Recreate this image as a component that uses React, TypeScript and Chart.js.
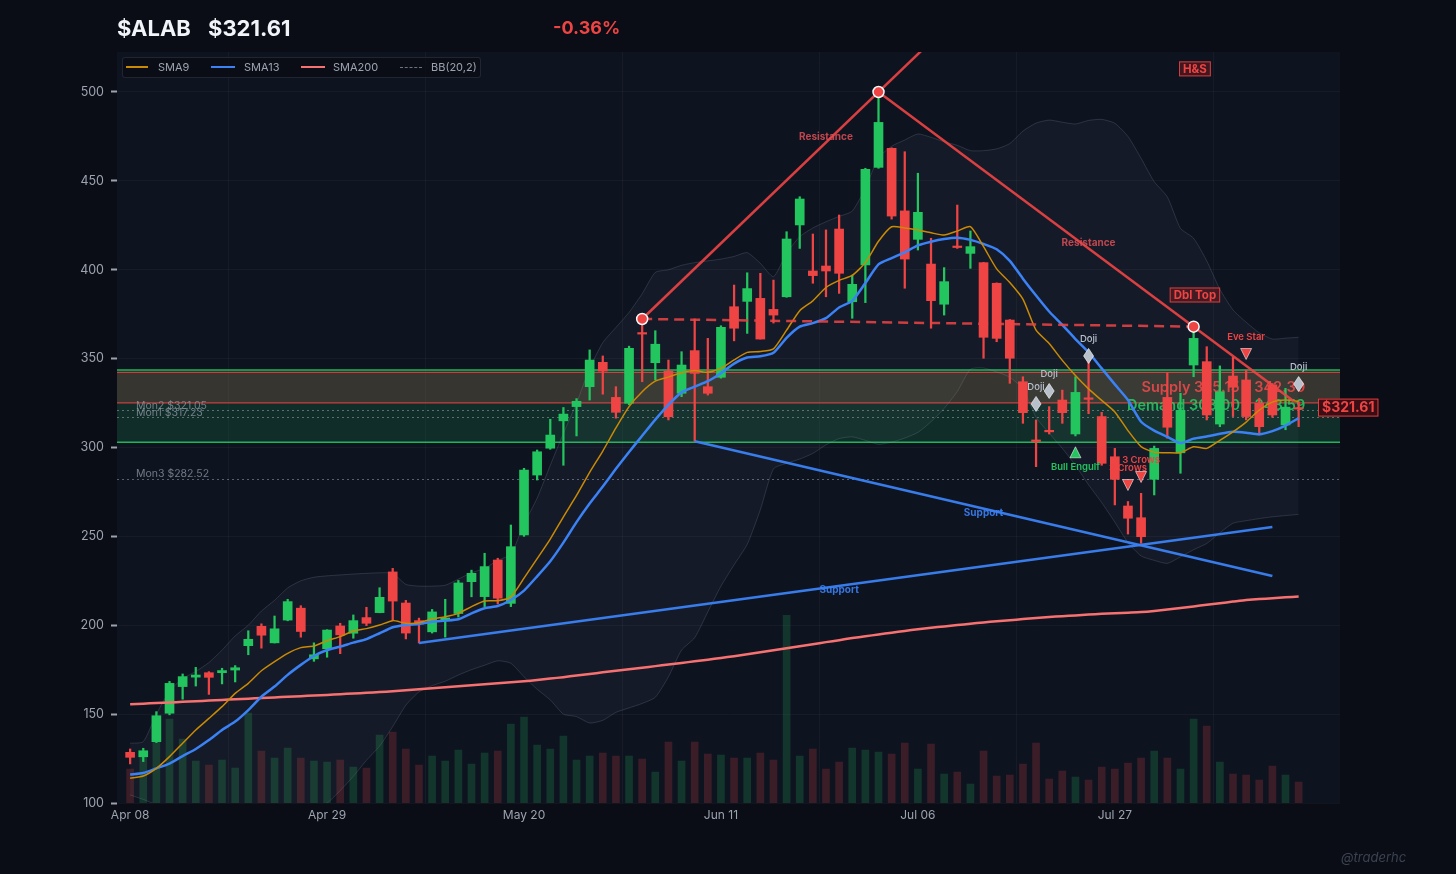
import React, { useEffect, useRef } from "react";
import { Chart, registerables } from "chart.js";

Chart.register(...registerables);

const FONT = "Inter, 'Noto Sans', 'DejaVu Sans', sans-serif";
const PAGE_BG = "#0a0d15";
const PLOT_BG = "#0e1320";
const GREEN = "#22c55e";
const RED = "#ef4444";
const BLUE = "#3b82f6";
const ORANGE = "#ca8a04";
const AXIS_TEXT = "#9ca3af";

// ---------- data ----------
const opens = [128.5,126.0,134.5,150.5,165.5,170.8,173.3,173.3,174.8,188.5, 199.4,190.1,202.9,209.6,181.1,186.8,199.6,195.5,204.3,207.1, 230.0,212.5,202.6,196.3,202.6,206.6,224.5,216.1,236.7,212.3, 250.8,284.5,299.6,315.0,323.0,334.2,347.9,328.2,324.9,364.2, 347.7,343.0,330.5,354.5,334.2,339.5,379.2,382.2,383.9,377.7, 384.8,425.2,399.3,402.1,422.9,382.0,402.7,457.6,468.3,433.1, 417.1,403.2,380.6,413.0,409.2,404.0,392.4,371.7,337.0,303.8, 309.2,326.7,307.6,327.5,317.4,294.8,267.1,260.5,282.1,328.2, 297.0,346.4,348.3,313.2,340.2,338.0,324.9,335.2,312.7,322.3];
const highs = [130.4,130.8,151.4,168.4,172.6,176.3,173.9,175.8,177.3,196.9, 200.8,205.2,214.6,211.0,190.1,197.5,201.1,205.8,210.1,221.1, 232.0,214.0,204.0,208.9,214.6,225.2,231.0,240.5,237.7,256.4, 288.3,298.6,315.9,322.5,327.5,354.9,351.5,334.2,357.0,372.3, 365.7,349.2,353.9,372.3,361.4,368.5,391.4,398.3,398.0,394.2, 421.4,441.1,420.1,422.4,430.8,397.0,457.1,500.0,468.6,466.4, 454.3,417.7,401.2,436.4,421.8,404.2,392.6,372.0,339.8,315.5, 323.0,332.3,339.8,348.3,319.8,299.5,269.6,274.2,300.8,342.1, 330.5,368.0,356.7,345.9,350.7,343.6,327.7,336.0,333.3,325.8];
const lows = [122.0,123.3,134.0,149.6,158.4,165.8,161.1,167.0,168.1,183.4, 187.1,190.0,202.5,193.3,179.7,182.0,184.0,192.7,199.8,207.0, 202.6,192.3,190.0,195.6,193.3,204.6,216.0,210.5,212.0,210.5, 250.0,281.7,299.0,290.0,306.5,326.7,330.0,316.5,324.0,337.0, 338.0,315.5,328.6,303.5,329.5,339.0,360.0,364.2,361.0,370.0, 384.5,412.0,392.4,384.8,386.7,372.7,381.5,457.1,428.5,389.6, 411.1,367.1,374.5,412.0,400.8,350.2,359.5,336.1,313.6,289.2, 307.6,313.6,306.5,319.0,290.0,267.7,251.3,246.1,273.3,305.2, 285.5,339.8,315.5,311.7,317.4,315.5,307.0,317.0,310.0,311.7];
const closes = [125.7,129.4,149.1,167.3,171.1,172.0,170.7,174.5,176.1,192.1, 194.4,198.0,213.3,196.5,183.4,197.3,194.6,202.6,201.1,215.7, 213.6,195.6,200.7,207.5,204.1,223.8,229.2,233.0,215.2,244.2, 287.3,297.6,307.0,318.8,326.0,349.2,343.0,319.8,355.8,363.8, 358.1,317.3,346.4,341.7,330.5,367.6,367.1,389.4,361.0,374.5, 417.3,439.8,396.7,399.3,398.0,391.8,456.5,482.9,430.2,406.0, 432.3,382.6,393.3,412.5,413.0,362.0,361.4,350.2,319.6,303.4, 308.8,319.6,331.0,327.1,291.1,282.1,260.2,249.8,299.5,311.4, 320.9,361.4,318.3,331.4,333.9,317.4,311.7,318.3,322.7,321.61];
// volume, millions
const volumes = [3.4,4.7,6.1,8.4,6.4,4.2,3.8,4.3,3.5,9.0, 5.2,4.5,5.5,4.5,4.2,4.1,4.3,3.6,3.5,6.8, 7.1,5.4,3.8,4.7,4.2,5.3,3.9,5.0,5.2,7.9, 8.6,5.8,5.4,6.7,4.3,4.7,5.0,4.7,4.7,4.4, 3.1,6.1,4.2,6.1,4.9,4.8,4.5,4.5,5.0,4.3, 18.8,4.7,5.4,3.4,4.1,5.5,5.3,5.1,4.9,6.0, 3.4,5.9,2.9,3.1,1.9,5.2,2.7,2.8,3.9,6.0, 2.4,3.2,2.6,2.3,3.6,3.4,4.0,4.5,5.2,4.5, 3.4,8.4,7.7,4.1,2.9,2.8,2.3,3.7,2.8,2.1];
const sma9 = [113.9,115.2,119.5,126.1,133.6,141.1,147.6,154.2,161.7,167.3, 174.4,179.5,184.2,187.4,188.3,191.3,193.6,196.8,198.1,200.1, 202.6,201.1,201.4,203.5,204.8,206.7,210.5,213.6,213.8,216.0, 226.5,237.5,248.5,261.0,273.0,286.0,298.0,311.0,323.0,331.4, 337.3,339.6,342.0,343.3,342.3,344.5,349.3,353.5,354.0,355.5, 366.0,377.0,382.5,390.0,394.0,396.8,404.0,416.0,424.2,423.5, 422.3,420.8,419.5,421.8,424.2,413.0,400.5,392.8,383.5,366.0, 358.5,349.0,340.5,333.0,326.5,320.0,309.5,300.5,297.3,297.1, 297.1,300.4,299.5,304.0,308.8,314.3,321.0,325.5,326.7,326.0];
const sma13 = [116.0,116.9,119.5,122.2,126.4,130.4,135.4,141.1,145.8,152.3, 159.8,165.5,172.1,177.7,182.7,186.1,188.0,190.2,192.2,195.5, 198.9,200.2,200.7,202.0,202.6,203.4,206.7,209.6,210.8,214.2, 219.5,227.5,236.0,246.5,258.0,268.5,278.0,288.0,297.5,306.6, 315.7,324.0,331.0,334.2,337.3,341.8,347.2,350.6,351.3,353.3, 361.7,368.0,370.0,372.8,378.8,382.5,392.5,403.0,406.5,409.8, 413.7,415.8,417.3,418.0,416.8,414.5,411.5,405.0,395.0,385.5, 376.5,369.0,361.0,353.5,344.5,335.5,326.7,314.5,309.5,306.0, 302.5,305.0,306.2,307.7,308.8,308.3,307.4,309.2,312.3,316.5];
const sma200 = [155.5,155.9,156.2,156.6,156.9,157.3,157.6,158.0,158.4,158.7, 159.1,159.4,159.8,160.1,160.5,160.8,161.2,161.6,162.0,162.4, 162.9,163.4,164.0,164.5,165.1,165.7,166.2,166.8,167.4,167.9, 168.5,169.2,170.0,170.8,171.7,172.6,173.5,174.4,175.3,176.1, 177.0,177.9,178.8,179.7,180.6,181.6,182.6,183.7,184.8,185.9, 187.0,188.2,189.3,190.5,191.6,192.8,193.8,194.8,195.8,196.8, 197.8,198.6,199.3,200.1,200.8,201.6,202.2,202.8,203.5,204.1, 204.7,205.1,205.5,206.0,206.4,206.8,207.1,207.4,208.0,208.8, 209.7,210.6,211.5,212.4,213.3,214.2,214.7,215.2,215.7,216.2];
const bbUpper = [133.6,134.5,150,163,170,174,179,186,194,200, 208,214,221,225,227,227.8,228.3,228.8,229.2,229.5, 229.2,223,222,222,222.5,226,229.5,232,236.5,240, 257,271.5,290,308,325,344.5,359,367.5,376,386.5, 398.5,400,402.5,404,405,406,407.5,409.6,403.6,396.1, 409.3,418.6,423.5,427,430,433,446,463,469.5,473, 476.4,474.5,472,470,467,467,468,471,478,482.5, 484.2,483,482,484,484.6,482.4,475,462.7,449.5,441, 423.3,417.7,405,389,377.4,370.5,364.5,361,361.5,362];
const bbLower = [104.5,102,99,96,94,92,90,89,88,88, 89,91,94,95,97.5,100,107,115,124,132, 143,155,162.5,166,168.5,172,175,177.5,180,178.6, 171,164,158,150,148.6,145,146.5,151,153.5,156, 159.5,171,186,193,207.5,222,234,245.5,265,288, 291.1,293.5,296.7,301.5,305,306,304,301.8,303,305.3, 308.5,314.5,322,331.5,344,344.7,342.5,339.5,333,317, 308,299.5,290,279,269,258,246.5,239,236.5,234.8, 238.5,242.5,246,252,257.4,258.8,260,261,261.7,262.4];

const xTickIndex = [0, 15, 30, 45, 60, 75];
const xTickLabels = ["Apr 08", "Apr 29", "May 20", "Jun 11", "Jul 06", "Jul 27"];
const yTicks = [100, 150, 200, 250, 300, 350, 400, 450, 500];

const demandZone = [303.0, 343.59];
const supplyZone = [325.15, 342.3];
const supplyText = "Supply 325.15 – 342.30";
const demandText = "Demand 303.00 – 343.59";
const monLevels = [
  { label: "Mon2 $321.05", value: 321.05 },
  { label: "Mon1 $317.23", value: 317.23 },
  { label: "Mon3 $282.52", value: 282.52 },
];
const resistanceLines = [
  { x1: 39, y1: 372.3, x2: 61, y2: 528.4 },
  { x1: 57, y1: 500.0, x2: 88.6, y2: 326.2 },
];
const necklines = [{ x1: 39, y1: 372.3, x2: 81, y2: 368.0 }];
const supportLines = [
  { x1: 43, y1: 303.5, x2: 87, y2: 227.7 },
  { x1: 22, y1: 190.0, x2: 87, y2: 255.3 },
];
const pivots = [
  { x: 39, y: 372.3 },
  { x: 57, y: 500.0 },
  { x: 81, y: 368.0 },
];
const lineLabels = [
  { text: "Resistance", x: 53, y: 474.7, kind: "res" },
  { text: "Resistance", x: 73, y: 415.0, kind: "res" },
  { text: "Support", x: 65, y: 263.1, kind: "sup" },
  { text: "Support", x: 54, y: 219.8, kind: "sup" },
];
const dojiMarks = [
  { x: 69, y: 324.5 },
  { x: 70, y: 331.8 },
  { x: 73, y: 351.5 },
  { x: 89, y: 335.7 },
];
const bullMarks = [{ x: 72, y: 297.3, label: "Bull Engulf" }];
const bearMarks = [
  { x: 76, y: 278.9, label: "3 Crows" },
  { x: 77, y: 283.4, label: "3 Crows" },
  { x: 85, y: 352.6, label: "Eve Star" },
];
const patternTags = [
  { text: "H&S", x: 81.1, y: 513.0 },
  { text: "Dbl Top", x: 81.1, y: 385.8 },
];
const lastPrice = 321.61;

// ---------- helpers ----------
const idx = closes.map((_, i) => i);
const isUp = (i: number) => closes[i] >= opens[i];

function drawTri(ctx: CanvasRenderingContext2D, cx: number, cy: number, up: boolean, fill: string) {
  const w = 11, h = 11;
  ctx.beginPath();
  if (up) {
    ctx.moveTo(cx, cy - h / 2);
    ctx.lineTo(cx + w / 2, cy + h / 2);
    ctx.lineTo(cx - w / 2, cy + h / 2);
  } else {
    ctx.moveTo(cx - w / 2, cy - h / 2);
    ctx.lineTo(cx + w / 2, cy - h / 2);
    ctx.lineTo(cx, cy + h / 2);
  }
  ctx.closePath();
  ctx.fillStyle = fill;
  ctx.fill();
  ctx.strokeStyle = "rgba(255,255,255,0.55)";
  ctx.lineWidth = 1;
  ctx.stroke();
}

const backgroundPlugin = {
  id: "plotBg",
  beforeDraw(chart: any) {
    const { ctx, chartArea: a } = chart;
    ctx.save();
    ctx.fillStyle = PLOT_BG;
    ctx.fillRect(a.left, a.top, a.right - a.left, a.bottom - a.top);
    ctx.restore();
  },
};

const annotationPlugin = {
  id: "annotations",
  beforeDatasetsDraw(chart: any) {
    const { ctx, chartArea: a, scales } = chart;
    const x = scales.x, y = scales.y;
    ctx.save();
    ctx.beginPath();
    ctx.rect(a.left, a.top, a.right - a.left, a.bottom - a.top);
    ctx.clip();
    const W = a.right - a.left;
    const dT = y.getPixelForValue(demandZone[1]);
    const dB = y.getPixelForValue(demandZone[0]);
    const sT = y.getPixelForValue(supplyZone[1]);
    const sB = y.getPixelForValue(supplyZone[0]);
    // supply first, demand laid over it
    ctx.fillStyle = "rgba(239,68,68,0.2)";
    ctx.fillRect(a.left, sT, W, sB - sT);
    ctx.fillStyle = "rgba(34,197,94,0.15)";
    ctx.fillRect(a.left, dT, W, dB - dT);
    const hline = (py: number, color: string, lw: number) => {
      ctx.beginPath();
      ctx.moveTo(a.left, py);
      ctx.lineTo(a.right, py);
      ctx.strokeStyle = color;
      ctx.lineWidth = lw;
      ctx.stroke();
    };
    hline(sT, "rgba(239,68,68,0.8)", 1.2);
    hline(sB, "rgba(239,68,68,0.8)", 1.2);
    hline(dT, "rgba(34,197,94,0.9)", 1.5);
    hline(dB, "rgba(34,197,94,0.9)", 1.5);

    // monthly levels
    ctx.setLineDash([2, 3]);
    monLevels.forEach((m) => {
      const py = Math.round(y.getPixelForValue(m.value)) + 0.5;
      hline(py, "rgba(203,213,225,0.4)", 1);
    });
    ctx.setLineDash([]);
    ctx.font = `400 10.5px ${FONT}`;
    ctx.fillStyle = "rgba(148,156,170,0.75)";
    ctx.textAlign = "left";
    ctx.textBaseline = "bottom";
    monLevels.forEach((m) => {
      const py = y.getPixelForValue(m.value);
      ctx.fillText(m.label, a.left + 19, py + 1);
    });

    // zone texts (under candles)
    ctx.textAlign = "right";
    ctx.textBaseline = "middle";
    ctx.font = `600 14.5px ${FONT}`;
    const tx = x.getPixelForValue(89.5);
    ctx.fillStyle = "rgba(239,68,68,0.9)";
    ctx.fillText(supplyText, tx, (sT + sB) / 2);
    ctx.fillStyle = "rgba(34,197,94,0.9)";
    ctx.fillText(demandText, tx, (dT + dB) / 2);
    ctx.restore();
  },
  afterDatasetsDraw(chart: any) {
    const { ctx, chartArea: a, scales } = chart;
    const x = scales.x, y = scales.y;
    ctx.save();
    ctx.beginPath();
    ctx.rect(a.left, a.top, a.right - a.left, a.bottom - a.top);
    ctx.clip();
    ctx.lineCap = "butt";
    const seg = (l: any, color: string, lw: number, dash: number[]) => {
      ctx.beginPath();
      ctx.setLineDash(dash);
      ctx.moveTo(x.getPixelForValue(l.x1), y.getPixelForValue(l.y1));
      ctx.lineTo(x.getPixelForValue(l.x2), y.getPixelForValue(l.y2));
      ctx.strokeStyle = color;
      ctx.lineWidth = lw;
      ctx.stroke();
    };
    supportLines.forEach((l) => seg(l, "rgba(59,130,246,0.95)", 2.5, []));
    resistanceLines.forEach((l) => seg(l, "rgba(239,68,68,0.9)", 2.5, []));
    necklines.forEach((l) => seg(l, "rgba(239,68,68,0.85)", 2.5, [10, 6]));
    ctx.setLineDash([]);

    pivots.forEach((p) => {
      ctx.beginPath();
      ctx.arc(x.getPixelForValue(p.x), y.getPixelForValue(p.y), 5.5, 0, Math.PI * 2);
      ctx.fillStyle = RED;
      ctx.fill();
      ctx.strokeStyle = "#f8fafc";
      ctx.lineWidth = 1.5;
      ctx.stroke();
    });

    ctx.textAlign = "center";
    ctx.textBaseline = "middle";
    ctx.font = `700 10px ${FONT}`;
    lineLabels.forEach((l) => {
      ctx.fillStyle = l.kind === "res" ? "rgba(220,80,86,0.85)" : "rgba(59,130,246,0.9)";
      ctx.fillText(l.text, x.getPixelForValue(l.x), y.getPixelForValue(l.y));
    });

    // doji diamonds
    dojiMarks.forEach((d) => {
      const cx = x.getPixelForValue(d.x), cy = y.getPixelForValue(d.y);
      ctx.beginPath();
      ctx.moveTo(cx, cy - 7.5);
      ctx.lineTo(cx + 5, cy);
      ctx.lineTo(cx, cy + 7.5);
      ctx.lineTo(cx - 5, cy);
      ctx.closePath();
      ctx.fillStyle = "#b8c0cc";
      ctx.fill();
      ctx.strokeStyle = "rgba(255,255,255,0.6)";
      ctx.lineWidth = 1;
      ctx.stroke();
      ctx.font = `500 9.5px ${FONT}`;
      ctx.fillStyle = "#b8c0cc";
      ctx.fillText("Doji", cx, cy - 17);
    });
    bullMarks.forEach((m) => {
      const cx = x.getPixelForValue(m.x), cy = y.getPixelForValue(m.y);
      drawTri(ctx, cx, cy, true, GREEN);
      ctx.font = `600 9.5px ${FONT}`;
      ctx.fillStyle = GREEN;
      ctx.fillText(m.label, cx, cy + 15);
    });
    bearMarks.forEach((m) => {
      const cx = x.getPixelForValue(m.x), cy = y.getPixelForValue(m.y);
      drawTri(ctx, cx, cy, false, RED);
      ctx.font = `600 9.5px ${FONT}`;
      ctx.fillStyle = RED;
      ctx.fillText(m.label, cx, cy - 17);
    });

    // pattern tags
    ctx.font = `700 11.5px ${FONT}`;
    patternTags.forEach((t) => {
      const cx = x.getPixelForValue(t.x), cy = y.getPixelForValue(t.y);
      const w = ctx.measureText(t.text).width + 8;
      const h = 15;
      ctx.fillStyle = "rgba(127,29,29,0.45)";
      ctx.fillRect(cx - w / 2, cy - h / 2, w, h);
      ctx.strokeStyle = "rgba(239,68,68,0.85)";
      ctx.lineWidth = 1;
      ctx.strokeRect(cx - w / 2 + 0.5, cy - h / 2 + 0.5, w - 1, h - 1);
      ctx.fillStyle = RED;
      ctx.fillText(t.text, cx, cy + 0.5);
    });
    ctx.restore();
  },
  afterDraw(chart: any) {
    const { ctx, chartArea: a, scales } = chart;
    const py = scales.y.getPixelForValue(lastPrice) - 1.5;
    ctx.save();
    ctx.font = `700 14px ${FONT}`;
    const txt = "$" + lastPrice.toFixed(2);
    const w = ctx.measureText(txt).width + 8;
    const h = 18;
    const left = a.right - 22;
    ctx.fillStyle = "rgba(60,14,20,0.95)";
    ctx.fillRect(left, py - h / 2, w, h);
    ctx.strokeStyle = "rgba(239,68,68,0.9)";
    ctx.lineWidth = 1;
    ctx.strokeRect(left + 0.5, py - h / 2 + 0.5, w - 1, h - 1);
    ctx.fillStyle = RED;
    ctx.textAlign = "left";
    ctx.textBaseline = "middle";
    ctx.fillText(txt, left + 4, py + 0.5);
    ctx.restore();
  },
};

export default function App() {
  const canvasRef = useRef<HTMLCanvasElement>(null);

  useEffect(() => {
    if (!canvasRef.current) return;
    Chart.defaults.font.family = FONT;
    const upCol = (i: number, a: number) => (isUp(i) ? `rgba(34,197,94,${a})` : `rgba(239,68,68,${a})`);
    const lineDs = (label: string, values: number[], color: string, width: number, order: number) => ({
      type: "line" as const,
      label,
      data: values.map((v, i) => ({ x: i, y: v })),
      borderColor: color,
      borderWidth: width,
      pointRadius: 0,
      tension: 0.2,
      fill: false,
      order,
      yAxisID: "y",
    });

    const chart = new Chart(canvasRef.current, {
      type: "bar",
      data: {
        datasets: [
          {
            type: "bar",
            label: "Volume",
            data: volumes.map((v, i) => ({ x: i, y: v })),
            backgroundColor: idx.map((i) => (isUp(i) ? "rgba(34,197,94,0.2)" : "rgba(239,68,68,0.2)")),
            barThickness: 7,
            grouped: false,
            yAxisID: "y1",
            order: 10,
          } as any,
          {
            type: "line",
            label: "BB upper",
            data: bbUpper.map((v, i) => ({ x: i, y: v })),
            borderColor: "rgba(148,163,184,0.2)",
            borderWidth: 1,
            pointRadius: 0,
            tension: 0.2,
            fill: "+1",
            backgroundColor: "rgba(148,163,184,0.055)",
            order: 9,
            yAxisID: "y",
          } as any,
          {
            type: "line",
            label: "BB lower",
            data: bbLower.map((v, i) => ({ x: i, y: v })),
            borderColor: "rgba(148,163,184,0.2)",
            borderWidth: 1,
            pointRadius: 0,
            tension: 0.2,
            fill: false,
            order: 9,
            yAxisID: "y",
          } as any,
          {
            type: "bar",
            label: "Wicks",
            data: idx.map((i) => ({ x: i, y: [lows[i], highs[i]] })),
            backgroundColor: idx.map((i) => upCol(i, 1)),
            barThickness: 1.6,
            grouped: false,
            yAxisID: "y",
            order: 6,
          } as any,
          {
            type: "bar",
            label: "Candles",
            data: idx.map((i) => ({ x: i, y: [opens[i], closes[i]] })),
            backgroundColor: idx.map((i) => upCol(i, 1)),
            barThickness: 9,
            minBarLength: 1.5,
            grouped: false,
            yAxisID: "y",
            order: 5,
          } as any,
          lineDs("SMA200", sma200, "#f87171", 2.5, 3) as any,
          lineDs("SMA13", sma13, BLUE, 2.5, 2) as any,
          lineDs("SMA9", sma9, ORANGE, 1.5, 1) as any,
        ],
      },
      options: {
        animation: false,
        responsive: true,
        maintainAspectRatio: false,
        layout: { padding: { left: 0, right: 116, top: 52, bottom: 0 } },
        plugins: {
          legend: { display: false },
          tooltip: { enabled: false },
        },
        scales: {
          x: {
            type: "linear",
            min: -1,
            max: 92.15,
            offset: false,
            afterBuildTicks: (s: any) => {
              s.ticks = xTickIndex.map((v) => ({ value: v }));
            },
            afterFit: (s: any) => {
              s.height = 71;
            },
            ticks: {
              autoSkip: false,
              maxRotation: 0,
              padding: 5,
              color: AXIS_TEXT,
              font: { size: 12, family: FONT },
              callback: (v: any) => {
                const k = xTickIndex.indexOf(Number(v));
                return k >= 0 ? xTickLabels[k] : "";
              },
            },
            grid: { color: "rgba(255,255,255,0.035)", drawTicks: false },
            border: { display: false },
          },
          y: {
            type: "linear",
            position: "left",
            min: 100,
            max: 522.5,
            afterBuildTicks: (s: any) => {
              s.ticks = yTicks.map((v) => ({ value: v }));
            },
            afterFit: (s: any) => {
              s.width = 117;
            },
            ticks: {
              color: AXIS_TEXT,
              padding: 7,
              font: { size: 12.5, family: FONT },
            },
            grid: {
              color: "rgba(255,255,255,0.035)",
              tickColor: "#9ca3af",
              tickLength: 6,
              tickWidth: 2,
            },
            border: { display: false },
          },
          y1: {
            type: "linear",
            display: false,
            min: 0,
            max: Math.max(...volumes) * 4,
          },
        },
      } as any,
      plugins: [backgroundPlugin, annotationPlugin],
    });
    return () => chart.destroy();
  }, []);

  const legendText: React.CSSProperties = {
    position: "absolute",
    top: 59,
    lineHeight: "16px",
    fontSize: 11,
    color: "#9ca3af",
    whiteSpace: "nowrap",
  };
  const legendLine = (left: number, width: number, color: string): React.CSSProperties => ({
    position: "absolute",
    left,
    top: 66,
    width,
    height: 2,
    background: color,
  });

  return (
    <div
      style={{
        position: "fixed",
        left: 0,
        top: 0,
        width: 1456,
        height: 874,
        background: PAGE_BG,
        overflow: "hidden",
        fontFamily: FONT,
      }}
    >
      <canvas ref={canvasRef} style={{ position: "absolute", left: 0, top: 0 }} />
      <div style={{ position: "absolute", left: 117, top: 14, lineHeight: "28px", fontSize: 22, fontWeight: 700, color: "#f1f5f9", whiteSpace: "nowrap" }}>$ALAB</div>
      <div style={{ position: "absolute", left: 208, top: 14, lineHeight: "28px", fontSize: 22, fontWeight: 700, color: "#f1f5f9", whiteSpace: "nowrap" }}>$321.61</div>
      <div style={{ position: "absolute", left: 553, top: 14, lineHeight: "28px", fontSize: 18, fontWeight: 700, color: RED, whiteSpace: "nowrap" }}>-0.36%</div>

      <div
        style={{
          position: "absolute",
          left: 122,
          top: 57,
          width: 359,
          height: 21,
          boxSizing: "border-box",
          border: "1px solid rgba(148,163,184,0.16)",
          borderRadius: 3,
          background: "rgba(10,13,21,0.85)",
        }}
      />
      <div style={legendLine(126, 22, ORANGE)} />
      <div style={{ ...legendText, left: 158 }}>SMA9</div>
      <div style={legendLine(211, 24, BLUE)} />
      <div style={{ ...legendText, left: 244 }}>SMA13</div>
      <div style={legendLine(301, 24, "#f87171")} />
      <div style={{ ...legendText, left: 333 }}>SMA200</div>
      <div style={{ position: "absolute", left: 400, top: 67, width: 22, height: 0, borderTop: "1px dashed #6b7280" }} />
      <div style={{ ...legendText, left: 431 }}>BB(20,2)</div>

      <div style={{ position: "absolute", left: 1341, top: 848, lineHeight: "18px", fontSize: 13, fontStyle: "italic", color: "#3b4250", whiteSpace: "nowrap" }}>@traderhc</div>
    </div>
  );
}
